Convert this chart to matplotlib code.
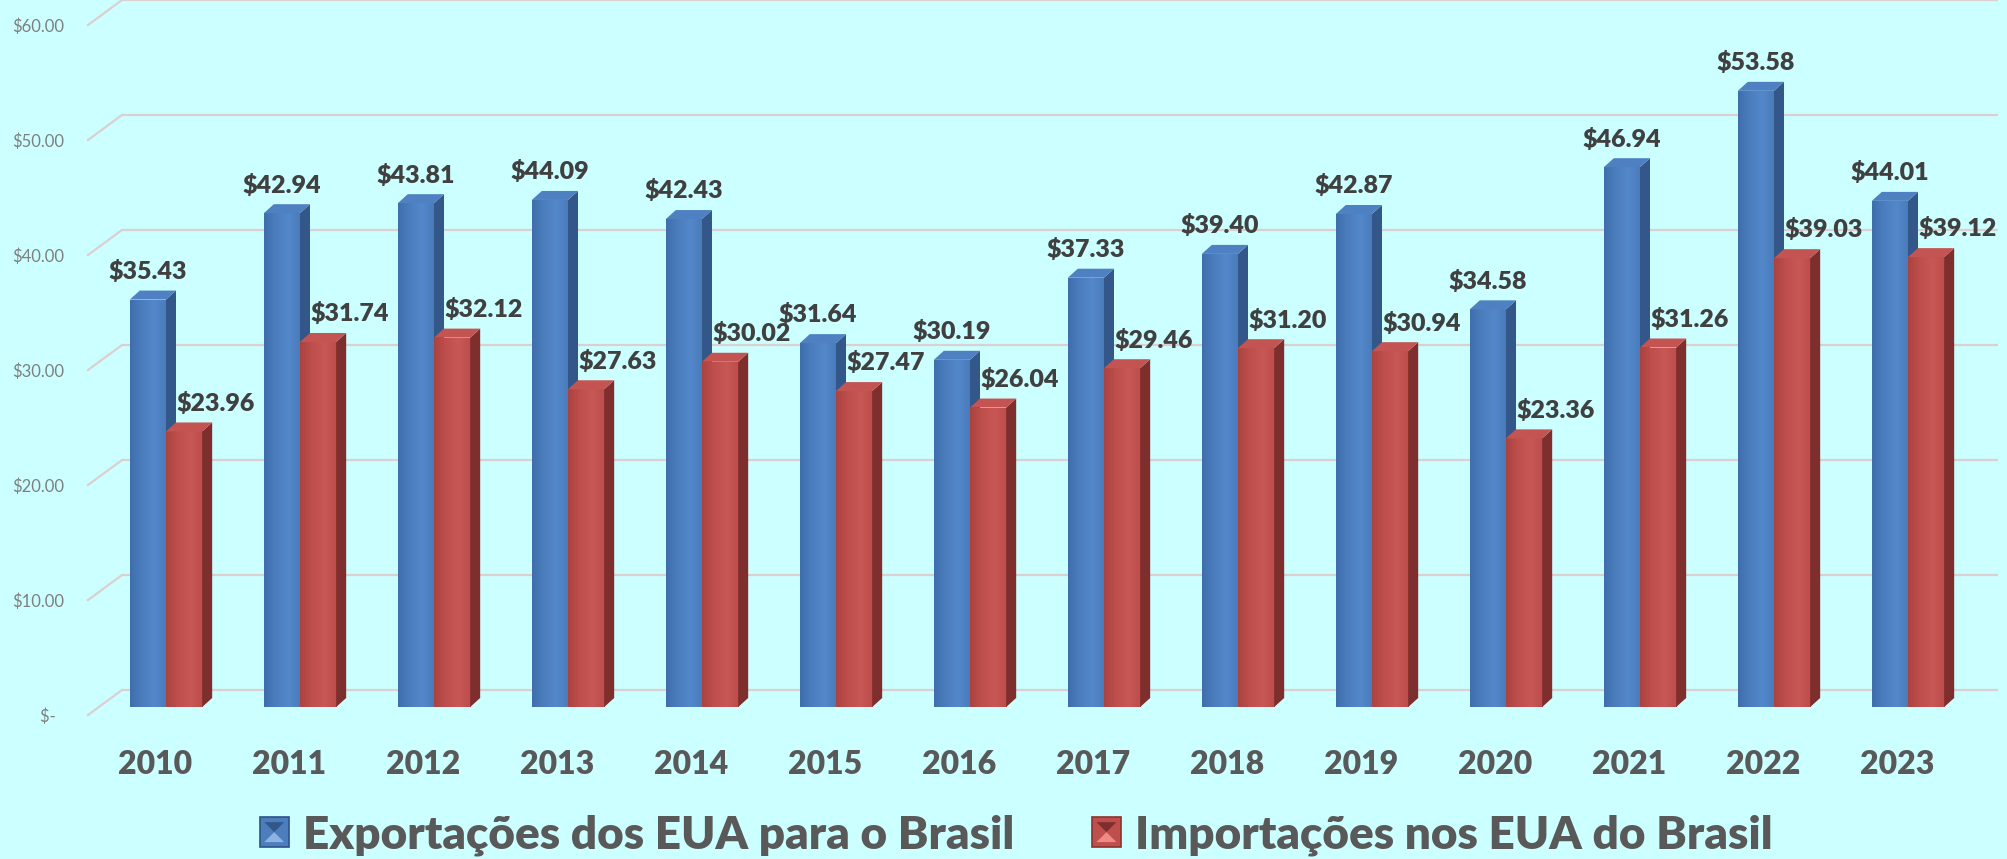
import numpy as np
import matplotlib
matplotlib.use("Agg")
import matplotlib.pyplot as plt
from matplotlib import transforms
from matplotlib.colors import LinearSegmentedColormap
from matplotlib.legend_handler import HandlerBase
from matplotlib.patches import Polygon, Rectangle

# data
years = ["2010", "2011", "2012", "2013", "2014", "2015", "2016",
         "2017", "2018", "2019", "2020", "2021", "2022", "2023"]
exports = [35.43, 42.94, 43.81, 44.09, 42.43, 31.64, 30.19,
           37.33, 39.40, 42.87, 34.58, 46.94, 53.58, 44.01]
imports = [23.96, 31.74, 32.12, 27.63, 30.02, 27.47, 26.04,
           29.46, 31.20, 30.94, 23.36, 31.26, 39.03, 39.12]
y_ticks = [0, 10, 20, 30, 40, 50, 60]
y_labels = ["$-  ", "$10.00", "$20.00", "$30.00", "$40.00", "$50.00", "$60.00"]
series_names = ["Exportações dos EUA para o Brasil", "Importações nos EUA do Brasil"]

BG = "#CCFFFF"
GRID = "#DCCFCF"
FONT = "Lato"

# colours: front (gradient), side, top, legend light
BLUE = dict(front=["#3F6EAD", "#4C7EBE", "#5388CB", "#4A7BBA"], side="#34578A",
            top="#4E80C2", edge="#2F5185", light="#8DB3E2")
RED = dict(front=["#AA4340", "#BF4F4C", "#C85855", "#BC4D4A"], side="#7E2F2D",
           top="#C45451", edge="#8B3230", light="#F08A86")

W, H, DPI = 20.07, 8.59, 100
fig = plt.figure(figsize=(W, H), dpi=DPI, facecolor=BG)
ax = fig.add_axes([88 / 2007, 144 / 859, 1876 / 2007, 690 / 859])
ax.set_facecolor("none")
ax.set_xlim(-0.5, 13.5)
ax.set_ylim(0, 60)
for s in ax.spines.values():
    s.set_visible(False)

# 3-D look: bar plane and back wall are shifted from the front plane
bar_tf = ax.transData + transforms.ScaledTranslation(11 / DPI, 8 / DPI, fig.dpi_scale_trans)
back_tf = ax.transData + transforms.ScaledTranslation(34 / DPI, 25 / DPI, fig.dpi_scale_trans)
px_x = 1876 / 14.0
px_y = 690 / 60.0
back_dx, back_dy = 34 / px_x, 25 / px_y
side_dx, side_dy = 10 / px_x, 9 / px_y

# gridlines on the back wall, with the floor/side diagonal
x0, x1 = ax.get_xlim()
for v in y_ticks:
    ax.plot([x0, x1], [v, v], transform=back_tf, color=GRID, lw=1.6,
            clip_on=False, zorder=1, solid_capstyle="butt")
    ax.plot([x0, x0 + back_dx], [v, v + back_dy], color=GRID, lw=1.6,
            clip_on=False, zorder=1)

x = np.arange(len(years))
width = 0.27


def draw_bars(xs, vals, col, z):
    cmap = LinearSegmentedColormap.from_list("f", col["front"])
    grad = np.linspace(0, 1, 64).reshape(1, -1)
    bars = ax.bar(xs, vals, width, color=col["front"][1], transform=bar_tf,
                  zorder=z, linewidth=0)
    for b in bars:
        bx, bw, bh = b.get_x(), b.get_width(), b.get_height()
        im = ax.imshow(grad, extent=(bx, bx + bw, 0, bh), cmap=cmap,
                       aspect="auto", transform=bar_tf, zorder=z + 0.1,
                       interpolation="bilinear")
        im.set_clip_path(b)
        side = Polygon([(bx + bw, 0), (bx + bw, bh), (bx + bw + side_dx, bh + side_dy),
                        (bx + bw + side_dx, side_dy)], closed=True,
                       facecolor=col["side"], edgecolor="none", transform=bar_tf,
                       zorder=z + 0.2)
        top = Polygon([(bx, bh), (bx + bw, bh), (bx + bw + side_dx, bh + side_dy),
                       (bx + side_dx, bh + side_dy)], closed=True,
                      facecolor=col["top"], edgecolor="none", transform=bar_tf,
                      zorder=z + 0.2)
        ax.add_patch(side)
        ax.add_patch(top)
    ax.set_xlim(x0, x1)
    ax.set_ylim(0, 60)
    return bars


draw_bars(x - width / 2, exports, BLUE, 3)
draw_bars(x + width / 2, imports, RED, 4)

# value labels
for xi, v in zip(x, exports):
    ax.annotate(f"${v:.2f}", (xi - width / 2, v), xycoords=bar_tf,
                xytext=(0, 12), textcoords="offset points", ha="center",
                va="bottom", fontsize=18, fontweight="heavy", family=FONT,
                color="#404040", zorder=10)
for xi, v in zip(x, imports):
    ax.annotate(f"${v:.2f}", (xi + width / 2, v), xycoords=bar_tf,
                xytext=(23, 12), textcoords="offset points", ha="center",
                va="bottom", fontsize=18, fontweight="heavy", family=FONT,
                color="#404040", zorder=10)

# axes ticks
ax.set_yticks(y_ticks)
ax.set_yticklabels(y_labels, fontsize=12, family=FONT, color="#7F7F7F")
ax.set_xticks(x)
ax.set_xticklabels(years, fontsize=23, fontweight="heavy", family=FONT, color="#595959")
ax.tick_params(axis="y", length=0, pad=17)
ax.tick_params(axis="x", length=0, pad=25)


class BevelHandler(HandlerBase):
    def __init__(self, col):
        super().__init__()
        self.col = col

    def create_artists(self, legend, orig_handle, xdescent, ydescent, width, height,
                       fontsize, trans):
        s = min(width, height)
        x0_, y0_ = -xdescent + (width - s) / 2, -ydescent + (height - s) / 2
        c = self.col
        i = s * 0.16
        outer = Rectangle((x0_, y0_), s, s, facecolor=c["front"][1], edgecolor=c["edge"],
                          lw=1.2, transform=trans)
        inner = [(x0_ + i, y0_ + i), (x0_ + s - i, y0_ + i), (x0_ + s - i, y0_ + s - i),
                 (x0_ + i, y0_ + s - i)]
        cx, cy = x0_ + s / 2, y0_ + s / 2
        top = Polygon([inner[3], inner[2], (cx, cy)], facecolor=c["side"], edgecolor="none",
                      transform=trans)
        bot = Polygon([inner[0], inner[1], (cx, cy)], facecolor=c["light"], edgecolor="none",
                      transform=trans)
        return [outer, top, bot]


h1 = Rectangle((0, 0), 1, 1)
h2 = Rectangle((0, 0), 1, 1)
leg = fig.legend([h1, h2], series_names, loc="center",
                 bbox_to_anchor=(1016 / 2007, 24 / 859), ncol=2, frameon=False,
                 handler_map={h1: BevelHandler(BLUE), h2: BevelHandler(RED)},
                 handlelength=0.64, handleheight=0.64, handletextpad=0.3,
                 columnspacing=1.7,
                 prop={"family": FONT, "weight": "heavy", "size": 33})
for t in leg.get_texts():
    t.set_color("#595959")

fig.savefig("out.png", dpi=DPI, facecolor=BG)
